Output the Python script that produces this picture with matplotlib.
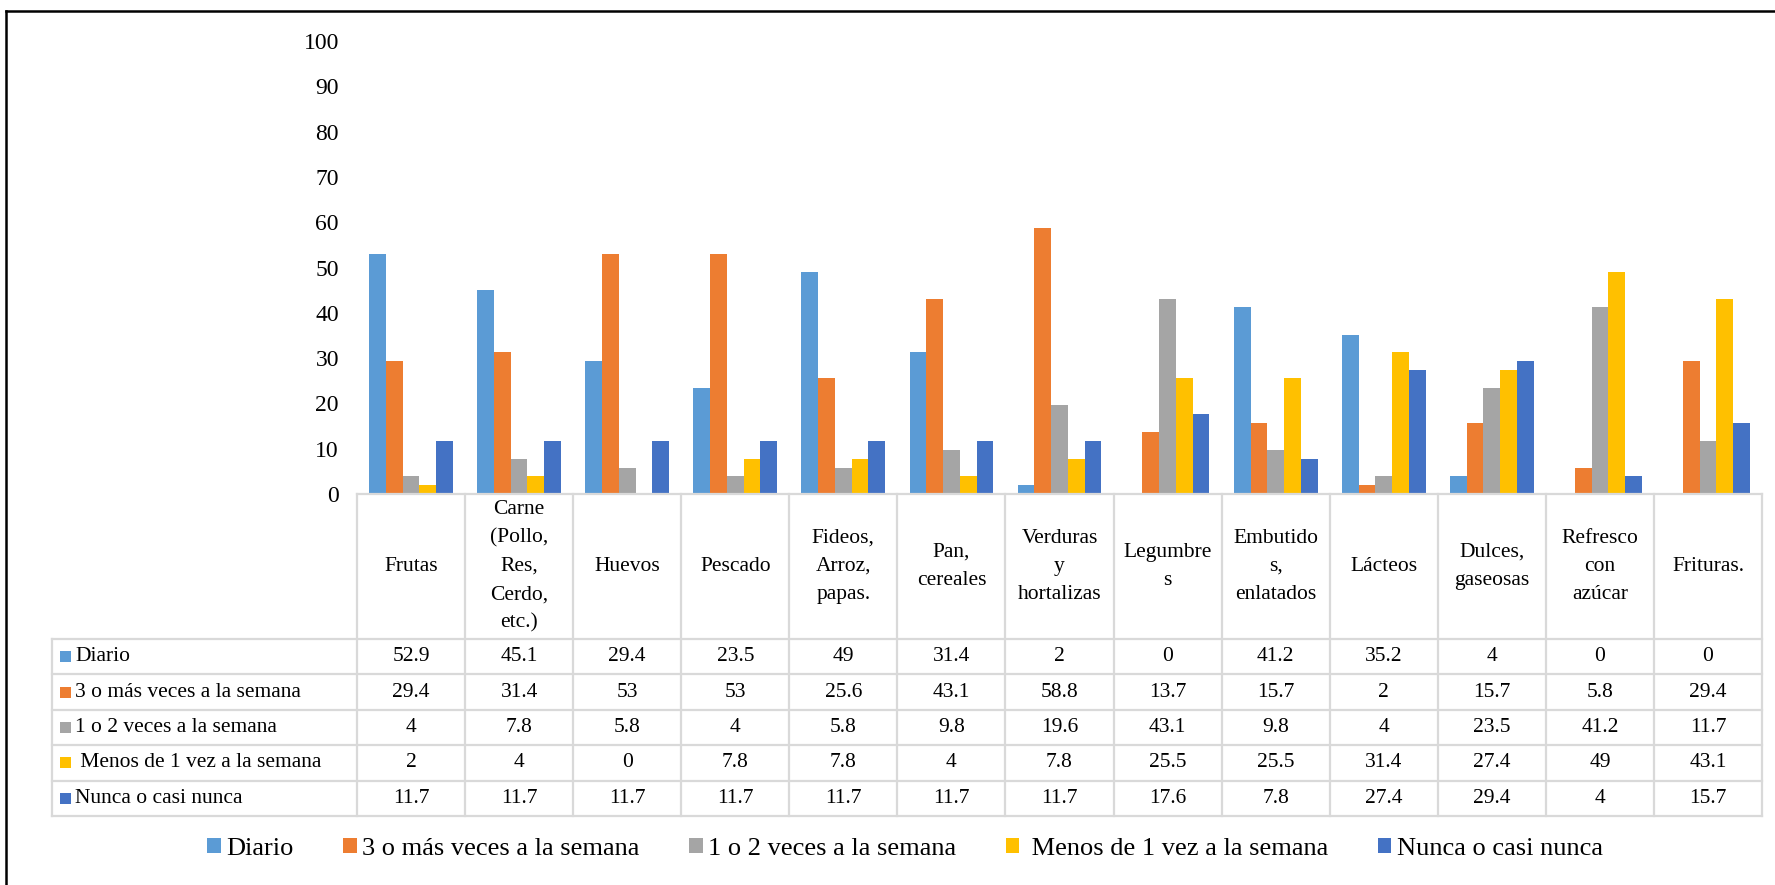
import numpy as np
import matplotlib.pyplot as plt
from matplotlib.lines import Line2D
from matplotlib.patches import Rectangle

plt.rcParams['font.family'] = ['Liberation Serif', 'DejaVu Serif']

# column headers, already broken into lines as they appear in the table
categories = ['Frutas', 'Carne\n(Pollo,\nRes,\nCerdo,\netc.)', 'Huevos', 'Pescado',
              'Fideos,\nArroz,\npapas.', 'Pan,\ncereales', 'Verduras\ny\nhortalizas',
              'Legumbre\ns', 'Embutido\ns,\nenlatados', 'Lácteos', 'Dulces,\ngaseosas',
              'Refresco\ncon\nazúcar', 'Frituras.']

series_names = ['Diario', '3 o más veces a la semana', '1 o 2 veces a la semana',
                ' Menos de 1 vez a la semana', 'Nunca o casi nunca']

diario = [52.9, 45.1, 29.4, 23.5, 49, 31.4, 2, 0, 41.2, 35.2, 4, 0, 0]
tres_o_mas = [29.4, 31.4, 53, 53, 25.6, 43.1, 58.8, 13.7, 15.7, 2, 15.7, 5.8, 29.4]
uno_o_dos = [4, 7.8, 5.8, 4, 5.8, 9.8, 19.6, 43.1, 9.8, 4, 23.5, 41.2, 11.7]
menos_de_uno = [2, 4, 0, 7.8, 7.8, 4, 7.8, 25.5, 25.5, 31.4, 27.4, 49, 43.1]
nunca = [11.7, 11.7, 11.7, 11.7, 11.7, 11.7, 11.7, 17.6, 7.8, 27.4, 29.4, 4, 15.7]

series = [diario, tres_o_mas, uno_o_dos, menos_de_uno, nunca]
colors = ['#5B9BD5', '#ED7D31', '#A5A5A5', '#FFC000', '#4472C4']

W, H = 1775, 885
fig = plt.figure(figsize=(W / 100, H / 100), dpi=100)

# pixel layout of the plot area and the data table
left, right = 357, 1762
y_top, y_zero = 41, 494
label_left = 52
header_h = 145
row_h = 35.4
grid = '#D9D9D9'
fs = 15.5

ax = fig.add_axes([left / W, (H - y_zero) / H, (right - left) / W, (y_zero - y_top) / H])
n = len(categories)
x = np.arange(n)
w = 0.155
for k, (vals, col) in enumerate(zip(series, colors)):
    ax.bar(x + (k - 2) * w, vals, width=w, color=col, linewidth=0)

ax.set_xlim(-0.5, n - 0.5)
ax.set_ylim(0, 100)
ax.set_yticks(range(0, 101, 10))
ax.tick_params(axis='y', length=0, pad=13, labelsize=17)
ax.set_xticks([])
for s in ax.spines.values():
    s.set_visible(False)

# data table below the bars, in pixel offsets from the x axis
table_bottom = header_h + 5 * row_h
col_w = (right - left) / n
x_label = -0.5 - (left - label_left) / col_w
tab = fig.add_axes([label_left / W, (H - y_zero - table_bottom) / H,
                    (right - label_left) / W, table_bottom / H])
tab.set_xlim(x_label, n - 0.5)
tab.set_ylim(table_bottom, 0)
tab.axis('off')

lw = 1.6
# header cells
tab.plot([-0.5, n - 0.5], [0, 0], color=grid, lw=lw, clip_on=False)
for i in range(n + 1):
    tab.plot([i - 0.5, i - 0.5], [0, table_bottom], color=grid, lw=lw, clip_on=False)
tab.plot([x_label, x_label], [header_h, table_bottom], color=grid, lw=lw, clip_on=False)
for r in range(6):
    yy = header_h + r * row_h
    tab.plot([x_label, n - 0.5], [yy, yy], color=grid, lw=lw, clip_on=False)

for i, cat in enumerate(categories):
    tab.text(i, header_h / 2, cat, ha='center', va='center', fontsize=fs,
             linespacing=1.65)

for r, (name, vals, col) in enumerate(zip(series_names, series, colors)):
    yc = header_h + (r + 0.5) * row_h
    tab.add_patch(Rectangle((x_label + 8 / col_w, yc - 5.5), 11 / col_w, 11,
                            facecolor=col, edgecolor='none'))
    tab.text(x_label + 23 / col_w, yc, name, ha='left', va='center', fontsize=fs)
    for i, v in enumerate(vals):
        tab.text(i, yc, f'{v:g}', ha='center', va='center', fontsize=fs)

# legend along the bottom
handles = [Rectangle((0, 0), 1, 1, facecolor=c, edgecolor='none') for c in colors]
fig.legend(handles, series_names, loc='center', bbox_to_anchor=(905 / W, 1 - 849 / H),
           ncol=5, frameon=False, fontsize=19, handlelength=0.5, handleheight=0.5,
           handletextpad=0.2, columnspacing=1.9, borderpad=0)

# chart frame: only the top and left edges are drawn
fig.add_artist(Line2D([6 / W, 1], [1 - 11 / H, 1 - 11 / H], color='black', lw=1.8))
fig.add_artist(Line2D([6 / W, 6 / W], [0, 1 - 11 / H], color='black', lw=1.8))

fig.savefig('out.png', dpi=100, facecolor='white')
